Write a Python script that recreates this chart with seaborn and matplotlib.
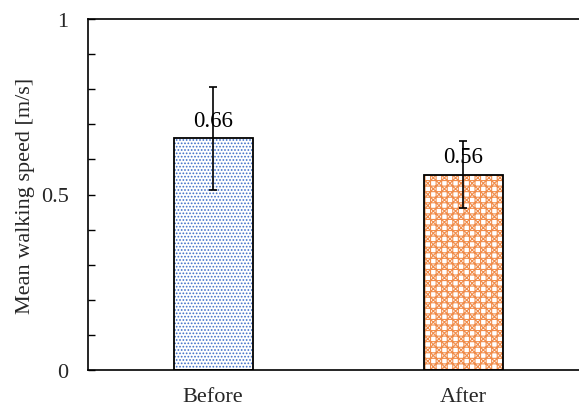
import matplotlib
matplotlib.use("Agg")
import matplotlib.pyplot as plt
import seaborn as sns
import pandas as pd
import numpy as np
from matplotlib.ticker import MultipleLocator

categories = ["Before", "After"]
means = [0.66, 0.556]
errors = [0.147, 0.095]
labels = ["0.66", "0.56"]
hatch_colors = ["#3F6FC8", "#F08C4A"]
hatches = [".....", "xxx+++"]

sns.set_style("white")
plt.rcParams["font.family"] = ["Liberation Serif", "DejaVu Serif"]
plt.rcParams["hatch.linewidth"] = 0.8

df = pd.DataFrame({"cat": categories, "mean": means})

fig = plt.figure(figsize=(5.79, 4.10), dpi=100)
ax = fig.add_axes([88/579, 39/410, 500/579, 351/410])

# hatched fill layer
sns.barplot(data=df, x="cat", y="mean", ax=ax, width=0.316, color="white",
            errorbar=None, saturation=1)
for p, h, c in zip(ax.patches, hatches, hatch_colors):
    p.set_hatch(h)
    p.set_edgecolor(c)
    p.set_linewidth(0)
n_fill = len(ax.patches)
# outline layer
sns.barplot(data=df, x="cat", y="mean", ax=ax, width=0.316, fill=False,
            errorbar=None, saturation=1)
for p in ax.patches[n_fill:]:
    p.set_edgecolor("black")
    p.set_linewidth(1.3)
    p.set_facecolor("none")

xs = np.arange(len(categories))
ax.errorbar(xs, means, yerr=errors, fmt="none", ecolor="black",
            elinewidth=1.2, capsize=3, capthick=1.2, zorder=5)

for x, m, lab in zip(xs, means, labels):
    ax.text(x, m + 0.022, lab, ha="center", va="bottom", fontsize=16.5, color="black")

ax.set_xlim(-0.5, 1.5)
ax.set_ylim(0, 1)
ax.set_yticks([0, 0.5, 1])
ax.set_yticklabels(["0", "0.5", "1"])
ax.yaxis.set_minor_locator(MultipleLocator(0.1))
ax.tick_params(axis="y", which="both", direction="in", length=5, width=1,
               color="black", left=True, labelsize=16, pad=14)
ax.tick_params(axis="x", which="both", length=0, labelsize=16, pad=12)
ax.set_xlabel("")
ax.set_ylabel("Mean walking speed [m/s]", fontsize=16, labelpad=4)

for s in ["left", "top", "bottom"]:
    ax.spines[s].set_visible(True)
    ax.spines[s].set_color("black")
    ax.spines[s].set_linewidth(1.2)
ax.spines["right"].set_visible(False)

fig.savefig("out.png", dpi=100)
